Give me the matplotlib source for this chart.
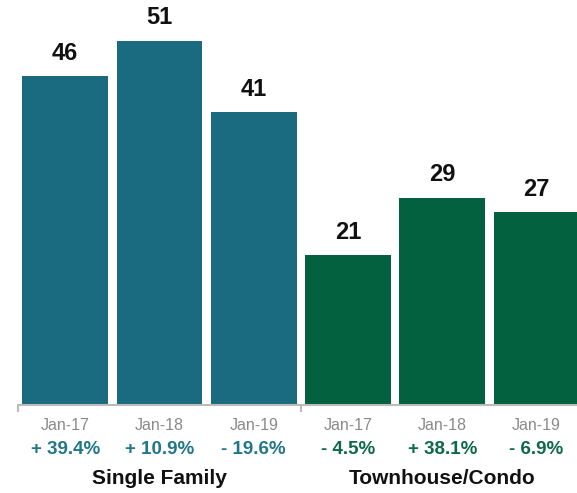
import matplotlib.pyplot as plt

plt.rcParams['font.family'] = ['Liberation Sans', 'DejaVu Sans']

months = ['Jan-17', 'Jan-18', 'Jan-19', 'Jan-17', 'Jan-18', 'Jan-19']
values = [46, 51, 41, 21, 29, 27]
changes = ['+ 39.4%', '+ 10.9%', '- 19.6%', '- 4.5%', '+ 38.1%', '- 6.9%']
groups = ['Single Family', 'Townhouse/Condo']

teal = '#1a6b7f'
green = '#04613f'
bar_colors = [teal] * 3 + [green] * 3
change_colors = ['#1f7789'] * 3 + ['#0b6b45'] * 3

fig = plt.figure(figsize=(5.77, 4.93), dpi=100)
# axes spans from x=18px to the right edge, baseline at y=405px
ax = fig.add_axes([18 / 577, 88 / 493, 559 / 577, 405 / 493])

x = list(range(len(values)))
ax.bar(x, values, width=0.91, color=bar_colors)
ax.set_xlim(-0.5, 5.43)
ax.set_ylim(0, 56.7)

for xi, v in zip(x, values):
    ax.annotate(str(v), (xi, v), xytext=(0, 16.5), textcoords='offset points',
                ha='center', va='center', fontsize=17, fontweight='bold', color='#111111')

# month labels, percent changes and group names under the axis
for xi, m, c, col in zip(x, months, changes, change_colors):
    ax.annotate(m, (xi, 0), xycoords=('data', 'axes fraction'), xytext=(0, -14.4),
                textcoords='offset points', ha='center', va='center',
                fontsize=11.5, color='#8a8a8a')
    ax.annotate(c, (xi, 0), xycoords=('data', 'axes fraction'), xytext=(0, -31.7),
                textcoords='offset points', ha='center', va='center',
                fontsize=13.5, fontweight='bold', color=col)

for gx, g in zip([1, 4], groups):
    ax.annotate(g, (gx, 0), xycoords=('data', 'axes fraction'), xytext=(0, -52.6),
                textcoords='offset points', ha='center', va='center',
                fontsize=15, fontweight='bold', color='#111111')

for side in ['top', 'right', 'left']:
    ax.spines[side].set_visible(False)
ax.spines['bottom'].set_color('#bbbbbb')
ax.spines['bottom'].set_linewidth(1.5)
ax.set_yticks([])
ax.set_xticks([])
ax.set_xticks([-0.5, 2.5], minor=True)
ax.tick_params(axis='x', which='minor', length=5, width=1.5, color='#bbbbbb', labelbottom=False)

fig.savefig('out.png', dpi=100)
